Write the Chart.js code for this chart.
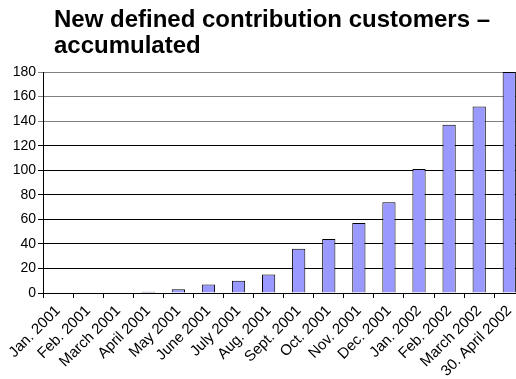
<!DOCTYPE html>
<html>
<head>
<meta charset="utf-8">
<script src="https://cdn.jsdelivr.net/npm/chart.js@4/dist/chart.umd.min.js"></script>
<style>
html,body{margin:0;padding:0;overflow:hidden;background:#fff;}
#wrap{width:526px;height:379px;position:relative;}
</style>
</head>
<body>
<div id="wrap"><canvas id="c" width="526" height="379"></canvas></div>
<script>
const categories = ["Jan. 2001","Feb. 2001","March 2001","April 2001","May 2001","June 2001","July 2001","Aug. 2001","Sept. 2001","Oct. 2001","Nov. 2001","Dec. 2001","Jan. 2002","Feb. 2002","March 2002","30. April 2002"];
const customers = [0,0,0,1,3,7,10,15,36,44,57,74,101,137,152,180];
const titleLines = ["New defined contribution customers –","accumulated"];
const yTicks = [0,20,40,60,80,100,120,140,160,180];

const titlePlugin = {
  id:'customTitle',
  afterDraw(chart){
    const ctx = chart.ctx;
    ctx.save();
    ctx.fillStyle = '#000';
    ctx.font = 'bold 24px "Liberation Sans", Arial, sans-serif';
    ctx.textAlign = 'left';
    ctx.textBaseline = 'alphabetic';
    ctx.fillText(titleLines[0], 54, 27);
    ctx.fillText(titleLines[1], 54, 53);
    ctx.restore();
  }
};

new Chart(document.getElementById('c'), {
  type:'bar',
  data:{
    labels:categories,
    datasets:[{
      data:customers,
      backgroundColor:'#9999FF',
      borderColor:'#000',
      borderWidth:1,
      barPercentage:0.44,
      categoryPercentage:1.0
    }]
  },
  options:{
    responsive:false,
    animation:false,
    layout:{padding:{top:72,left:0,right:0,bottom:0}},
    plugins:{legend:{display:false},title:{display:false},tooltip:{enabled:false}},
    scales:{
      x:{
        offset:true,
        grid:{display:true,drawOnChartArea:false,drawTicks:true,tickLength:5,color:'#000',offset:true},
        border:{display:true,color:'#000',width:1},
        ticks:{
          color:'#000',
          font:{family:'"Liberation Sans", Arial, sans-serif',size:15},
          maxRotation:45,minRotation:45,autoSkip:false,padding:4
        },
        afterFit(scale){scale.height = 379-293;}
      },
      y:{
        min:0,max:180,
        afterBuildTicks(scale){scale.ticks = yTicks.map(v=>({value:v}));},
        grid:{
          drawTicks:true,tickLength:5,
          color:(c)=> (c.tick && c.tick.value>=140) ? '#808080' : '#000',
          lineWidth:1
        },
        border:{display:true,color:'#000',width:1},
        ticks:{
          color:'#000',
          font:{family:'"Liberation Sans", Arial, sans-serif',size:14},
          padding:2
        },
        afterFit(scale){scale.width = 43;}
      }
    }
  },
  plugins:[titlePlugin]
});
</script>
</body>
</html>
